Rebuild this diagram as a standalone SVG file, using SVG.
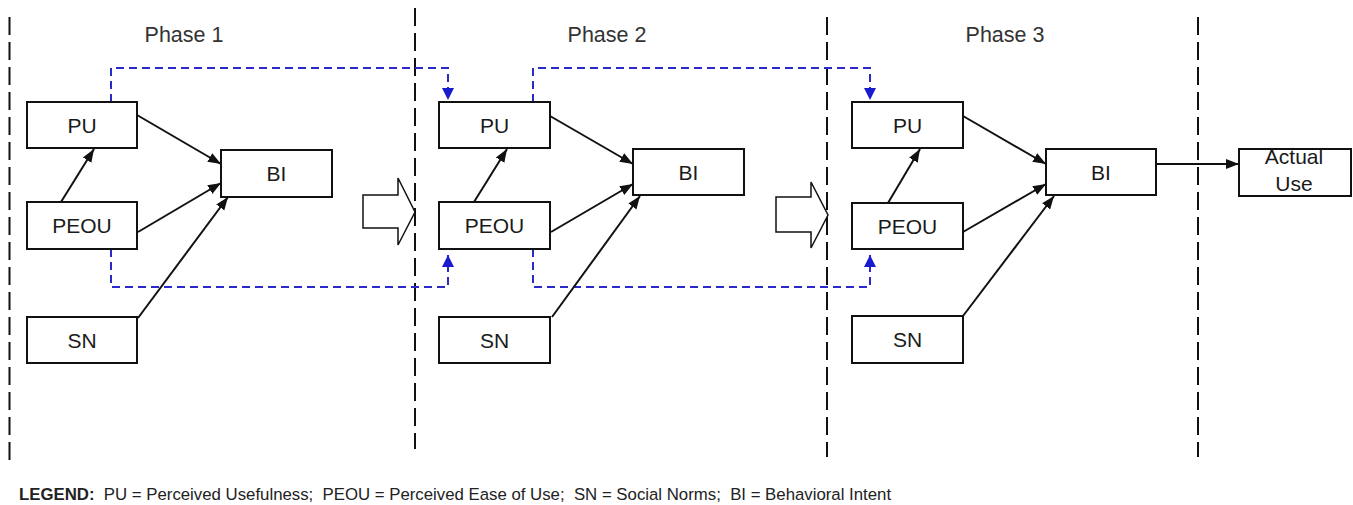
<svg xmlns="http://www.w3.org/2000/svg" width="1353" height="505" viewBox="0 0 1353 505">
<style>
.bx{fill:#fff;stroke:#111;stroke-width:2}
.lb{font-family:"Liberation Sans",Arial,sans-serif;font-size:21px;fill:#1a1a1a;text-anchor:middle}
.ph{font-family:"Liberation Sans",Arial,sans-serif;font-size:21.5px;fill:#333;text-anchor:middle}
.dv{stroke:#111;stroke-width:2;stroke-dasharray:18,7;fill:none}
.ar{stroke:#111;stroke-width:2;fill:none;marker-end:url(#ah)}
.ba{stroke:#2a2ac8;stroke-width:2;stroke-dasharray:8,5;fill:none;marker-end:url(#bh)}
.big{fill:#fff;stroke:#111;stroke-width:1.5}
.lg{font-family:"Liberation Sans",Arial,sans-serif;font-size:16.8px;fill:#222;white-space:pre}
</style>
<defs>
<marker id="ah" markerUnits="userSpaceOnUse" markerWidth="14" markerHeight="12" refX="13" refY="5" orient="auto" viewBox="0 0 14 10">
<path d="M0,0 L13,5 L0,10 Z" fill="#111"/>
</marker>
<marker id="bh" markerUnits="userSpaceOnUse" markerWidth="13" markerHeight="13" refX="12" refY="6" orient="auto" viewBox="0 0 13 12">
<path d="M0,0 L12,6 L0,12 Z" fill="#1a1ad0"/>
</marker>
</defs>

<g id="dividers">
<line class="dv" x1="9.5" y1="17" x2="9.5" y2="460"/>
<line class="dv" x1="415" y1="8" x2="415" y2="449"/>
<line class="dv" x1="827" y1="17" x2="827" y2="457"/>
<line class="dv" x1="1198" y1="17" x2="1198" y2="457"/>
</g>

<g id="phase-labels">
<text class="ph" x="184" y="42">Phase 1</text>
<text class="ph" x="607" y="42">Phase 2</text>
<text class="ph" x="1005" y="42">Phase 3</text>
</g>

<g id="transitions">
<path class="big" d="M363,195 H398 V178 L415,212 L398,245 V228 H363 Z"/>
<path class="big" d="M776,197 H811 V182 L828,215 L811,248 V232 H776 Z"/>
</g>

<g id="connectors">
<path class="ba" d="M111,102 V68 H448 V100"/>
<path class="ba" d="M111,249 V287 H448 V255"/>
<path class="ba" d="M533,102 V68 H870 V100"/>
<path class="ba" d="M533,249 V287 H870 V255"/>
<line class="ar" x1="137" y1="115" x2="221" y2="164"/>
<line class="ar" x1="61" y1="202" x2="94" y2="149"/>
<line class="ar" x1="138" y1="232" x2="221" y2="183"/>
<line class="ar" x1="138" y1="318" x2="228" y2="197"/>
<line class="ar" x1="550" y1="116" x2="633" y2="164"/>
<line class="ar" x1="474" y1="202" x2="507" y2="149"/>
<line class="ar" x1="551" y1="232" x2="633" y2="184"/>
<line class="ar" x1="552" y1="317" x2="640" y2="196"/>
<line class="ar" x1="963" y1="116" x2="1046" y2="164"/>
<line class="ar" x1="888" y1="203" x2="920" y2="149"/>
<line class="ar" x1="963" y1="232" x2="1046" y2="184"/>
<line class="ar" x1="963" y1="316" x2="1054" y2="196"/>
<line class="ar" x1="1156" y1="164" x2="1239" y2="164"/>
</g>

<g id="pu1"><rect class="bx" x="27" y="102" width="110" height="46"/><text class="lb" x="82" y="132.5">PU</text></g>
<g id="peou1"><rect class="bx" x="27" y="202" width="110" height="47"/><text class="lb" x="82" y="233">PEOU</text></g>
<g id="sn1"><rect class="bx" x="27" y="317" width="110" height="46"/><text class="lb" x="82" y="347.5">SN</text></g>
<g id="bi1"><rect class="bx" x="221" y="150" width="111" height="47"/><text class="lb" x="276.5" y="180.5">BI</text></g>

<g id="pu2"><rect class="bx" x="439" y="102" width="111" height="46"/><text class="lb" x="494.5" y="132.5">PU</text></g>
<g id="peou2"><rect class="bx" x="439" y="202" width="111" height="47"/><text class="lb" x="494.5" y="233">PEOU</text></g>
<g id="sn2"><rect class="bx" x="439" y="317" width="111" height="46"/><text class="lb" x="494.5" y="347.5">SN</text></g>
<g id="bi2"><rect class="bx" x="633" y="149" width="111" height="46"/><text class="lb" x="688.5" y="179.5">BI</text></g>

<g id="pu3"><rect class="bx" x="852" y="102" width="111" height="46"/><text class="lb" x="907.5" y="132.5">PU</text></g>
<g id="peou3"><rect class="bx" x="852" y="203" width="111" height="46"/><text class="lb" x="907.5" y="233.5">PEOU</text></g>
<g id="sn3"><rect class="bx" x="852" y="316" width="111" height="47"/><text class="lb" x="907.5" y="347">SN</text></g>
<g id="bi3"><rect class="bx" x="1046" y="149" width="110" height="46"/><text class="lb" x="1101" y="179.5">BI</text></g>

<g id="actual-use"><rect class="bx" x="1239" y="149" width="112" height="47"/><text class="lb" x="1294" y="164">Actual</text><text class="lb" x="1294" y="191">Use</text></g>

<g id="legend">
<text class="lg" x="19" y="500" xml:space="preserve"><tspan font-weight="bold">LEGEND:</tspan>  PU = Perceived Usefulness;  PEOU = Perceived Ease of Use;  SN = Social Norms;  BI = Behavioral Intent</text>
</g>
</svg>
